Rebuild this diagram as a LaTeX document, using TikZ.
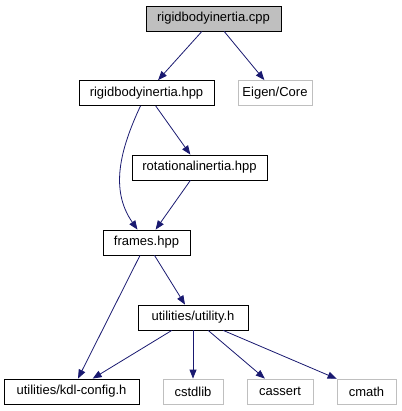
\documentclass[tikz,border=0pt]{standalone}
\definecolor{dgblue}{RGB}{25,25,112}
\definecolor{dggray}{RGB}{191,191,191}
\usepackage{fontspec}
\setmainfont{Liberation Sans}
\usepackage{tikz}
\usetikzlibrary{arrows.meta,positioning,calc}

\begin{document}
\begin{tikzpicture}[x=1pt, y=-1pt,
    file/.style={draw=black, line width=0.8pt, minimum height=25pt, inner sep=0pt, font=\fontsize{13}{15}\selectfont},
    rootfile/.style={file, fill=dggray},
    extfile/.style={file, draw=dggray},
    incl/.style={-{Triangle[length=9pt,width=7pt]}, dgblue, line width=0.8pt}]
    \useasboundingbox (0,0) rectangle (401,411);

    % Files
    \node[rootfile, minimum width=135pt] (cpp) at (213.5,18.5) {rigidbodyinertia.cpp};
    \node[file, minimum width=135pt] (rbihpp) at (146.5,93) {rigidbodyinertia.hpp};
    \node[extfile, minimum width=74pt] (eigen) at (275,93) {Eigen/Core};
    \node[file, minimum width=135pt] (rothpp) at (199.5,167.5) {rotationalinertia.hpp};
    \node[file, minimum width=87pt] (frames) at (146.5,242.5) {frames.hpp};
    \node[file, minimum width=110pt] (utility) at (193,317.5) {utilities/utility.h};
    \node[file, minimum width=135pt] (kdlconf) at (71.5,391.5) {utilities/kdl-config.h};
    \node[extfile, minimum width=60pt] (cstdlib) at (193,391.5) {cstdlib};
    \node[extfile, minimum width=66pt] (cassert) at (280,391.5) {cassert};
    \node[extfile, minimum width=59pt] (cmath) at (366.5,391.5) {cmath};

    % Includes
    \draw[incl] (cpp) -- (rbihpp);
    \draw[incl] (cpp) -- (eigen);
    \draw[incl] (rbihpp) -- (rothpp);
    \draw[incl] (rbihpp.-115) to[out=-115, in=125] (frames.125);
    \draw[incl] (rothpp) -- (frames);
    \draw[incl] (frames) -- (utility);
    \draw[incl] (frames) -- (kdlconf);
    \draw[incl] (utility) -- (kdlconf);
    \draw[incl] (utility) -- (cstdlib);
    \draw[incl] (utility) -- (cassert);
    \draw[incl] (utility) -- (cmath);
\end{tikzpicture}
\end{document}
